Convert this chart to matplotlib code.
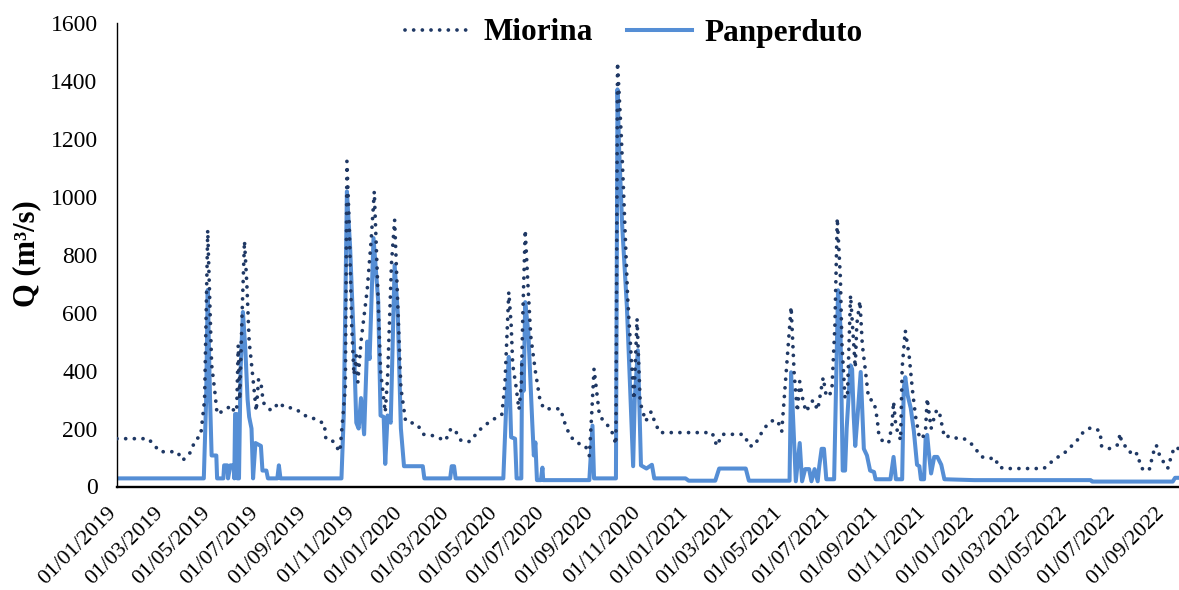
import matplotlib
matplotlib.use("Agg")
import matplotlib.pyplot as plt
import matplotlib.transforms as mtransforms
import pandas as pd

plt.rcParams['font.family'] = ['Liberation Serif', 'DejaVu Serif']

miorina_dates = [
    "2019-01-01", "2019-02-10", "2019-02-25", "2019-03-19", "2019-03-26", "2019-04-05", "2019-04-11",
    "2019-04-18", "2019-04-23", "2019-04-27", "2019-04-29", "2019-05-02", "2019-05-06", "2019-05-09",
    "2019-05-20", "2019-05-27", "2019-05-31", "2019-06-03", "2019-06-05", "2019-06-07", "2019-06-10",
    "2019-06-13", "2019-06-16", "2019-06-19", "2019-06-21", "2019-06-25", "2019-06-28", "2019-07-01",
    "2019-07-04", "2019-07-07", "2019-07-10", "2019-07-17", "2019-07-28", "2019-08-02", "2019-08-14",
    "2019-08-23", "2019-08-29", "2019-09-07", "2019-09-16", "2019-09-23", "2019-09-25", "2019-10-03",
    "2019-10-07", "2019-10-13", "2019-10-20", "2019-10-22", "2019-10-25", "2019-10-28", "2019-10-31",
    "2019-11-03", "2019-11-05", "2019-11-09", "2019-11-17", "2019-11-22", "2019-11-26", "2019-11-30",
    "2019-12-04", "2019-12-10", "2019-12-13", "2019-12-18", "2019-12-22", "2019-12-25", "2019-12-30",
    "2020-01-05", "2020-01-20", "2020-01-28", "2020-02-10", "2020-02-25", "2020-03-03", "2020-03-08",
    "2020-03-16", "2020-03-27", "2020-04-09", "2020-04-22", "2020-05-07", "2020-05-11", "2020-05-16",
    "2020-05-19", "2020-05-21", "2020-05-25", "2020-05-29", "2020-06-01", "2020-06-03", "2020-06-06",
    "2020-06-09", "2020-06-13", "2020-06-19", "2020-06-25", "2020-06-30", "2020-07-21", "2020-07-28",
    "2020-08-03", "2020-08-11", "2020-08-22", "2020-08-27", "2020-08-30", "2020-09-02", "2020-09-09",
    "2020-09-15", "2020-09-24", "2020-09-30", "2020-10-02", "2020-10-07", "2020-10-10", "2020-10-15",
    "2020-10-19", "2020-10-23", "2020-10-27", "2020-10-31", "2020-11-07", "2020-11-14", "2020-11-19",
    "2020-11-25", "2021-01-31", "2021-02-06", "2021-02-13", "2021-03-10", "2021-03-14", "2021-03-19",
    "2021-03-26", "2021-04-03", "2021-04-10", "2021-04-16", "2021-04-23", "2021-04-27", "2021-04-30",
    "2021-05-12", "2021-05-16", "2021-05-20", "2021-05-23", "2021-05-27", "2021-05-31", "2021-06-09",
    "2021-06-15", "2021-06-22", "2021-06-26", "2021-07-03", "2021-07-07", "2021-07-10", "2021-07-14",
    "2021-07-16", "2021-07-20", "2021-07-23", "2021-07-27", "2021-07-31", "2021-08-02", "2021-08-04",
    "2021-08-08", "2021-08-11", "2021-08-15", "2021-08-19", "2021-08-26", "2021-08-30", "2021-09-01",
    "2021-09-05", "2021-09-10", "2021-09-14", "2021-09-18", "2021-09-20", "2021-09-23", "2021-09-29",
    "2021-10-01", "2021-10-05", "2021-10-10", "2021-10-14", "2021-10-18", "2021-10-23", "2021-10-27",
    "2021-10-31", "2021-11-02", "2021-11-07", "2021-11-13", "2021-11-17", "2021-11-24", "2021-12-02",
    "2021-12-11", "2021-12-19", "2021-12-26", "2022-01-01", "2022-01-10", "2022-01-19", "2022-01-29",
    "2022-01-31", "2022-02-08", "2022-03-31", "2022-04-06", "2022-04-11", "2022-04-19", "2022-04-26",
    "2022-05-02", "2022-05-07", "2022-05-13", "2022-05-19", "2022-05-27", "2022-06-02", "2022-06-11",
    "2022-06-13", "2022-06-20", "2022-06-26", "2022-07-03", "2022-07-07", "2022-07-08", "2022-07-11",
    "2022-07-18", "2022-07-21", "2022-07-29", "2022-08-02", "2022-08-07", "2022-08-14", "2022-08-17",
    "2022-08-22", "2022-08-25", "2022-08-30", "2022-09-01", "2022-09-06", "2022-09-11", "2022-09-15",
    "2022-09-19",
]
miorina_q = [
    165, 165, 120, 120, 90, 118, 160,
    175, 300, 885, 700, 420, 330, 250,
    265, 280, 258, 260, 487, 300, 600,
    847, 700, 500, 450, 340, 260, 370,
    360, 290, 280, 262, 290, 275, 270,
    258, 245, 238, 225, 218, 166, 160,
    143, 120, 340, 1122, 900, 560, 385,
    452, 360, 500, 680, 850, 1018, 720,
    400, 256, 376, 770, 920, 700, 340,
    226, 214, 180, 175, 158, 200, 195,
    158, 155, 196, 225, 248, 350, 671,
    560, 420, 350, 265, 350, 600, 885,
    720, 520, 397, 296, 268, 268, 207,
    172, 151, 140, 106, 250, 406, 243,
    225, 196, 145, 1463, 1200, 1000, 650,
    470, 300, 579, 290, 225, 258, 220,
    186, 186, 140, 180, 180, 175, 140,
    140, 180, 208, 225, 230, 213, 190,
    620, 385, 258, 362, 300, 258, 298,
    264, 376, 310, 325, 556, 926, 720,
    490, 304, 310, 660, 490, 410, 560,
    640, 490, 400, 304, 293, 235, 183,
    160, 148, 154, 212, 293, 207, 160,
    410, 538, 450, 336, 244, 170, 165,
    200, 304, 200, 258, 264, 170, 175,
    165, 165, 154, 137, 103, 97, 97,
    70, 62, 62, 74, 88, 103, 114,
    131, 143, 160, 183, 200, 203, 191,
    140, 130, 132, 143, 183, 160, 143,
    132, 108, 114, 68, 53, 62, 108,
    143, 114, 97, 71, 64, 114, 137,
    131,
]

panperduto_dates = [
    "2019-01-01", "2019-04-22", "2019-04-25", "2019-04-27", "2019-04-30", "2019-05-02", "2019-05-08",
    "2019-05-09", "2019-05-17", "2019-05-18", "2019-05-22", "2019-05-23", "2019-05-26", "2019-05-30",
    "2019-05-31", "2019-06-01", "2019-06-03", "2019-06-04", "2019-06-06", "2019-06-08", "2019-06-11",
    "2019-06-14", "2019-06-17", "2019-06-19", "2019-06-22", "2019-06-24", "2019-06-27", "2019-07-04",
    "2019-07-06", "2019-07-11", "2019-07-13", "2019-07-25", "2019-07-27", "2019-07-29", "2019-10-15",
    "2019-10-18", "2019-10-22", "2019-10-26", "2019-10-31", "2019-11-03", "2019-11-06", "2019-11-09",
    "2019-11-13", "2019-11-17", "2019-11-20", "2019-11-25", "2019-12-01", "2019-12-04", "2019-12-08",
    "2019-12-10", "2019-12-13", "2019-12-17", "2019-12-22", "2019-12-26", "2019-12-30", "2020-01-03",
    "2020-01-27", "2020-01-29", "2020-03-02", "2020-03-04", "2020-03-07", "2020-03-09", "2020-05-09",
    "2020-05-13", "2020-05-16", "2020-05-19", "2020-05-24", "2020-05-26", "2020-06-01", "2020-06-02",
    "2020-06-04", "2020-06-06", "2020-06-10", "2020-06-15", "2020-06-17", "2020-06-19", "2020-06-21",
    "2020-06-26", "2020-06-28", "2020-06-29", "2020-08-27", "2020-08-31", "2020-09-02", "2020-09-30",
    "2020-10-02", "2020-10-04", "2020-10-08", "2020-10-14", "2020-10-18", "2020-10-22", "2020-10-24",
    "2020-10-28", "2020-10-30", "2020-11-01", "2020-11-08", "2020-11-15", "2020-11-18", "2020-12-28",
    "2021-01-01", "2021-02-04", "2021-02-09", "2021-03-15", "2021-03-19", "2021-05-10", "2021-05-12",
    "2021-05-16", "2021-05-18", "2021-05-23", "2021-05-26", "2021-05-30", "2021-06-04", "2021-06-07",
    "2021-06-11", "2021-06-15", "2021-06-17", "2021-06-20", "2021-06-23", "2021-06-26", "2021-07-06",
    "2021-07-08", "2021-07-11", "2021-07-14", "2021-07-17", "2021-07-20", "2021-07-22", "2021-07-27",
    "2021-07-29", "2021-07-31", "2021-08-02", "2021-08-05", "2021-08-09", "2021-08-11", "2021-08-13",
    "2021-08-17", "2021-08-21", "2021-08-26", "2021-08-28", "2021-09-16", "2021-09-20", "2021-09-23",
    "2021-10-01", "2021-10-03", "2021-10-05", "2021-10-08", "2021-10-12", "2021-10-16", "2021-10-20",
    "2021-10-23", "2021-10-25", "2021-10-29", "2021-10-31", "2021-11-02", "2021-11-04", "2021-11-07",
    "2021-11-11", "2021-11-15", "2021-11-20", "2021-11-24", "2022-01-01", "2022-05-30", "2022-06-01",
    "2022-09-12", "2022-09-15", "2022-09-19",
]
panperduto_q = [
    28, 28, 300, 678, 300, 107, 107,
    28, 28, 73, 73, 28, 73, 73,
    28, 250, 250, 28, 28, 400, 602,
    480, 300, 240, 200, 28, 150, 140,
    55, 55, 28, 28, 73, 28, 28,
    250, 1018, 830, 487, 220, 200, 305,
    180, 500, 440, 857, 640, 245, 240,
    78, 245, 220, 764, 600, 200, 70,
    70, 28, 28, 70, 70, 28, 28,
    300, 447, 170, 165, 28, 28, 430,
    330, 636, 530, 220, 107, 152, 22,
    22, 65, 22, 22, 210, 28, 28,
    1370, 1170, 900, 620, 350, 70, 300,
    470, 280, 73, 62, 75, 28, 28,
    20, 20, 62, 62, 20, 20, 394,
    140, 18, 150, 18, 60, 60, 18,
    60, 18, 70, 130, 130, 25, 25,
    290, 677, 555, 55, 55, 200, 418,
    405, 245, 140, 245, 395, 258, 130,
    107, 55, 50, 25, 25, 102, 25,
    25, 338, 377, 315, 270, 190, 75,
    70, 25, 25, 166, 178, 120, 45,
    102, 102, 75, 25, 22, 22, 17,
    17, 30, 30,
]

tick_start = "2019-01-01"
tick_end = "2022-09-01"
x_start = "2019-01-01"
x_end = "2022-09-20"
y_ticks = [0, 200, 400, 600, 800, 1000, 1200, 1400, 1600]

W, H = 1179, 590
fig = plt.figure(figsize=(W / 100, H / 100), dpi=100)
ax = fig.add_axes([117 / W, 1 - 486.5 / H, (W - 117) / W, (486.5 - 22.7) / H])

md = pd.to_datetime(miorina_dates)
pdts = pd.to_datetime(panperduto_dates)

ax.plot(pdts, panperduto_q, color='#558ED5', lw=2.9, solid_joinstyle='round',
        label='Panperduto', zorder=2)
ax.plot(md, miorina_q, color='#1F3864', lw=2.7, linestyle=(0, (0.01, 2.3)),
        dash_capstyle='round', label='Miorina', zorder=3)

ax.set_xlim(pd.Timestamp(x_start), pd.Timestamp(x_end))
ax.set_ylim(0, 1600)
ax.set_yticks(y_ticks)
ax.set_yticklabels([str(v) for v in y_ticks])

ticks = pd.date_range(tick_start, tick_end, freq='2MS')
ax.set_xticks(ticks)
ax.set_xticklabels([t.strftime('%d/%m/%Y') for t in ticks])

for s in ['top', 'right']:
    ax.spines[s].set_visible(False)
ax.spines['left'].set_linewidth(1.0)
ax.spines['bottom'].set_linewidth(1.7)
ax.spines['left'].set_color('black')
ax.spines['bottom'].set_color('black')

ax.tick_params(axis='y', length=0, pad=14, labelsize=17)
ax.tick_params(axis='x', length=0, pad=17, labelsize=16)
offset = mtransforms.ScaledTranslation(-3 / 100, 0, fig.dpi_scale_trans)
for lbl in ax.get_xticklabels():
    lbl.set_rotation(45)
    lbl.set_ha('right')
    lbl.set_va('center')
    lbl.set_rotation_mode('anchor')
    lbl.set_transform(lbl.get_transform() + offset)

fig.text(27 / W, 1 - 254 / H, 'Q (m\u00b3/s)', rotation=90, ha='center', va='center',
         fontsize=22, fontweight='bold')

handles, labels = ax.get_legend_handles_labels()
leg = fig.legend([handles[1], handles[0]], [labels[1], labels[0]], loc='center',
                 bbox_to_anchor=(634 / W, 1 - 33 / H), ncol=2, frameon=False,
                 handlelength=2.1, handletextpad=0.4, columnspacing=1.1,
                 prop={'weight': 'bold', 'size': 22.5})

fig.savefig('out.png', dpi=100)
